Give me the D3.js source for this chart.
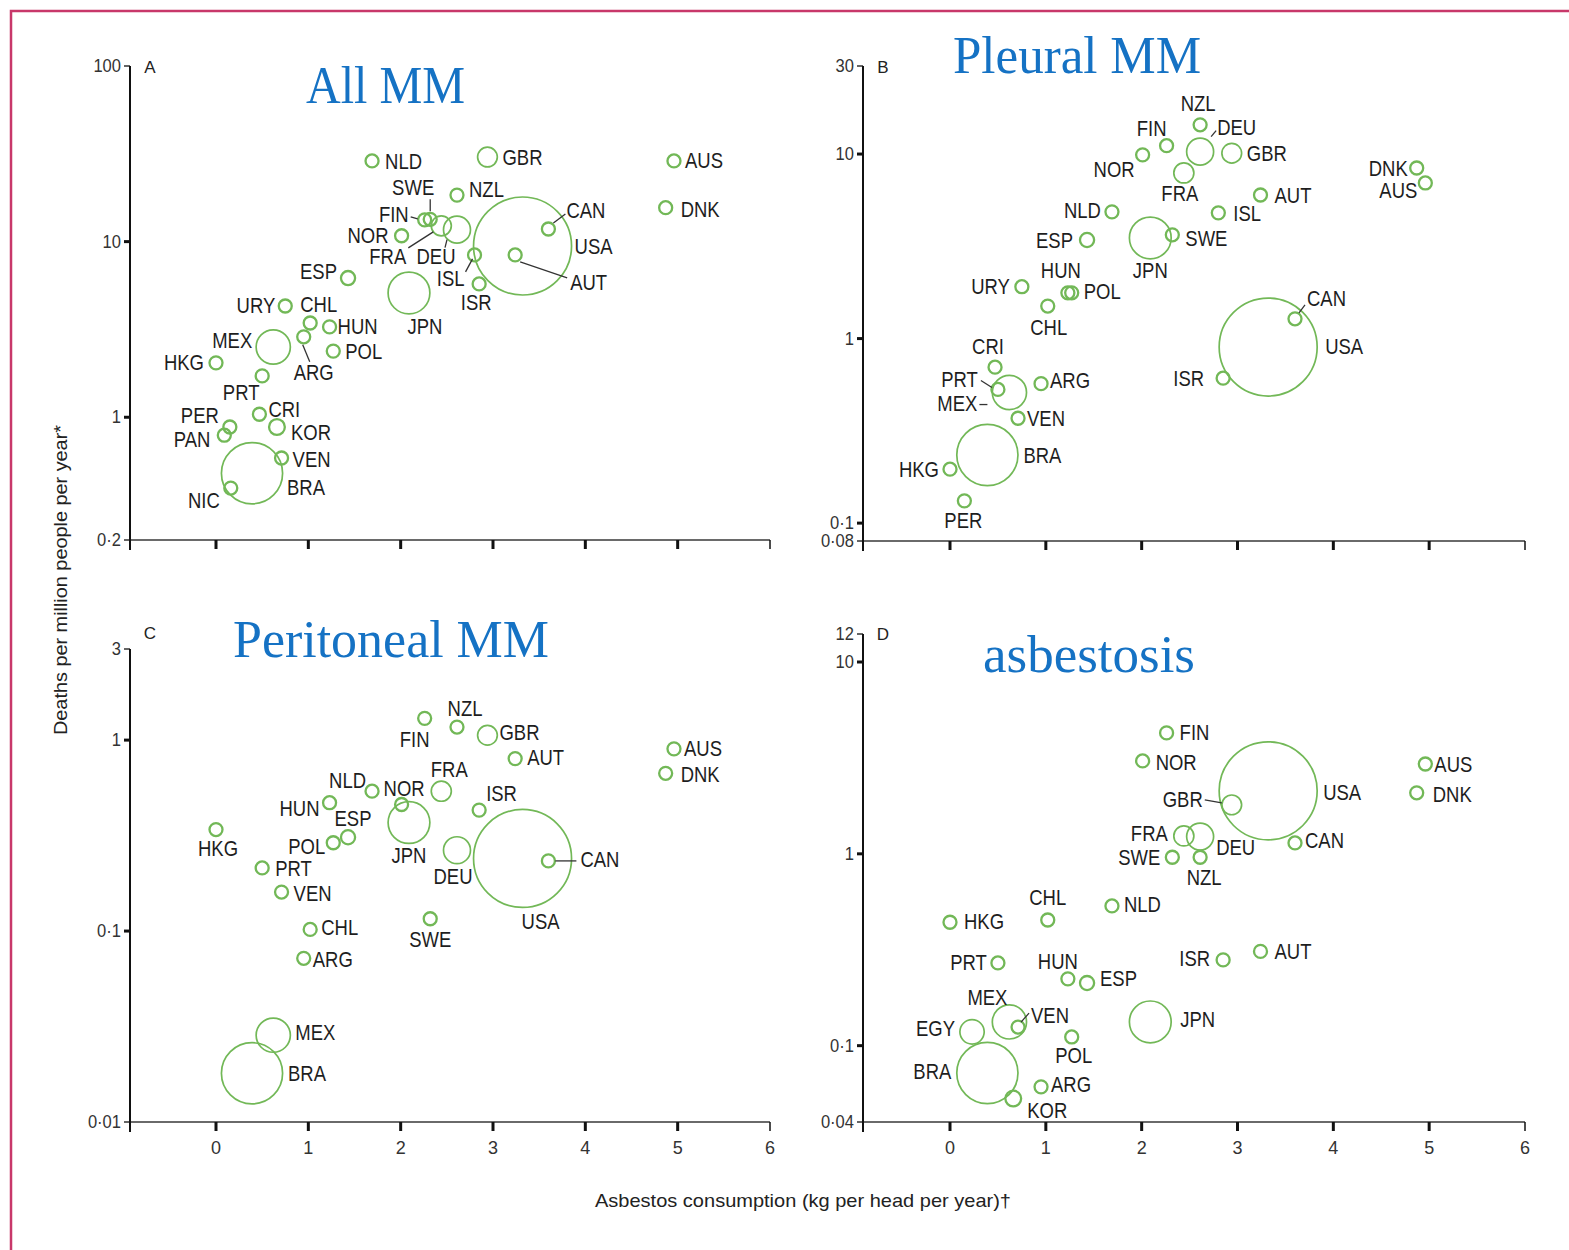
<!DOCTYPE html>
<html><head><meta charset="utf-8">
<script src="https://cdn.jsdelivr.net/npm/d3@7"></script>
<style>body{margin:0;background:#fff}svg{display:block}</style>
</head><body>
<svg id="chart" width="1569" height="1250"></svg>
<script>
// ---------------- DATA ----------------
const codes = ["AUS","DNK","NLD","GBR","NZL","SWE","FIN","FRA","DEU","NOR","CAN","USA","AUT","ISL","ISR","ESP","JPN","URY","CHL","HUN","ARG","MEX","POL","HKG","PRT","CRI","PER","PAN","KOR","VEN","BRA","NIC","EGY"];
// asbestos consumption, kg per head per year
const consumption = [4.96,4.87,1.69,2.94,2.61,2.32,2.26,2.44,2.61,2.01,3.60,3.32,3.24,2.80,2.85,1.43,2.09,0.75,1.02,1.23,0.95,0.62,1.27,0.00,0.50,0.47,0.15,0.09,0.66,0.71,0.39,0.16,0.23];
// population, millions (bubble size)
const population = [20,5.4,16,60,4,9,5.2,61,82,4.6,32,298,8.2,0.3,6.9,43,127,3.3,16,10,39,104,38,6.9,10.5,4.3,28,3.2,48,27,186,5.5,74];

// Panel A: all mesothelioma
const codesA = ["NLD","GBR","AUS","DNK","NZL","SWE","FIN","FRA","DEU","NOR","CAN","USA","AUT","ISL","ISR","ESP","JPN","URY","CHL","HUN","ARG","MEX","POL","HKG","PRT","CRI","PER","PAN","KOR","VEN","BRA","NIC"];
const ratesA = [28.8,30.3,28.8,15.6,18.4,13.4,13.3,12.3,11.7,10.8,11.8,9.44,8.4,8.4,5.74,6.2,5.1,4.3,3.44,3.27,2.87,2.51,2.38,2.04,1.72,1.04,0.88,0.79,0.88,0.586,0.48,0.395];
// Panel B: pleural mesothelioma
const codesB = ["NZL","FIN","DEU","NOR","GBR","FRA","DNK","AUS","AUT","NLD","ISL","ESP","JPN","SWE","URY","HUN","POL","CHL","CAN","USA","ISR","CRI","PRT","MEX","ARG","VEN","BRA","HKG","PER"];
const ratesB = [14.4,11.1,10.3,9.9,10.1,7.9,8.4,6.97,6.0,4.86,4.8,3.42,3.51,3.65,1.91,1.77,1.77,1.5,1.28,0.90,0.61,0.70,0.53,0.51,0.57,0.37,0.234,0.196,0.132];
// Panel C: peritoneal mesothelioma
const codesC = ["FIN","NZL","GBR","AUT","AUS","DNK","FRA","NLD","NOR","JPN","ISR","HUN","ESP","POL","HKG","DEU","USA","CAN","PRT","VEN","CHL","SWE","ARG","MEX","BRA"];
const ratesC = [1.30,1.17,1.06,0.80,0.90,0.67,0.54,0.54,0.46,0.37,0.43,0.47,0.31,0.29,0.34,0.265,0.24,0.233,0.214,0.16,0.102,0.116,0.072,0.0285,0.018];
// Panel D: asbestosis
const codesD = ["FIN","NOR","USA","GBR","AUS","DNK","FRA","DEU","CAN","SWE","NZL","CHL","NLD","HKG","AUT","ISR","PRT","HUN","ESP","MEX","VEN","EGY","JPN","POL","BRA","ARG","KOR"];
const ratesD = [4.27,3.05,2.13,1.80,2.94,2.08,1.24,1.23,1.14,0.96,0.96,0.452,0.535,0.44,0.31,0.28,0.27,0.223,0.212,0.133,0.125,0.118,0.133,0.111,0.072,0.061,0.053];

const xTicks = [0,1,2,3,4,5,6];
const yTicksA = [0.2,1,10,100];
const yTicksB = [0.08,0.1,1,10,30];
const yTicksC = [0.01,0.1,1,3];
const yTicksD = [0.04,0.1,1,10,12];
const yDomainA = [0.2,100], yDomainB = [0.08,30], yDomainC = [0.01,3], yDomainD = [0.04,10,12];
const titles = ["All MM","Pleural MM","Peritoneal MM","asbestosis"];
const letters = ["A","B","C","D"];
const xTitle = "Asbestos consumption (kg per head per year)\u2020";
const yTitle = "Deaths per million people per year*";

// ---------------- LABEL LAYOUT (annotation offsets) ----------------
const labA = [["NLD",13,1,"s"],["GBR",15,0,"s"],["AUS",11,0,"s"],["DNK",15,2,"s"],["NZL",12,-6,"s"],
["SWE",4,-32,"e"],["FIN",-16,-5,"e"],["NOR",-13,0,"e"],["FRA",-35,31,"e"],["DEU",-21,27,"m"],
["CAN",18,-19,"s"],["USA",52,0,"s"],["AUT",55,28,"s"],["ISL",-10,24,"e"],["ISR",-3,19,"m"],
["ESP",-11,-7,"e"],["JPN",16,34,"m"],["URY",-10,0,"e"],["CHL",-10,-19,"s"],["HUN",8,0,"s"],
["MEX",-21,-7,"e"],["ARG",10,36,"m"],["POL",12,0,"s"],["HKG",-12,0,"e"],["PRT",-21,17,"m"],
["CRI",9,-5,"s"],["PER",-11,-12,"e"],["PAN",-14,4,"e"],["KOR",14,5,"s"],["VEN",11,1,"s"],
["BRA",35,14,"s"],["NIC",-11,12,"e"]];
const leadA = [["SWE",0,-20,0,-8],["FIN",-14,-3,-7,-1],["FRA",-33,22,-8,6],["DEU",-10,10,-12,18],
["CAN",5,-6,17,-15],["AUT",5,7,52,23],["ISL",-2,4,-9,17],["ARG",-1,8,6,25]];
const labB = [["NZL",-2,-21,"m"],["FIN",-15,-17,"m"],["DEU",17,-24,"s"],["GBR",15,0,"s"],["NOR",-8,15,"e"],
["FRA",-4,21,"m"],["DNK",-9,0,"e"],["AUS",-8,8,"e"],["AUT",14,1,"s"],["NLD",-11,-1,"e"],
["ISL",15,1,"s"],["ESP",-14,0,"e"],["SWE",13,4,"s"],["JPN",0,33,"m"],["HUN",-7,-22,"m"],
["URY",-12,0,"e"],["POL",12,-1,"s"],["CHL",1,21,"m"],["CAN",12,-20,"s"],["USA",57,-1,"s"],
["CRI",-7,-21,"m"],["PRT",-20,-10,"e"],["MEX",-32,11,"e"],["ARG",9,-3,"s"],["VEN",9,0,"s"],
["ISR",-19,0,"e"],["BRA",36,1,"s"],["HKG",-11,0,"e"],["PER",-1,20,"m"]];
const leadB = [["DEU",11,-15,16,-21],["CAN",4,-6,10,-14],["PRT",-17,-9,-6,-2],["MEX",-30,12,-22,12]];
const labC = [["FIN",-10,21,"m"],["NZL",8,-19,"m"],["GBR",12,-3,"s"],["AUT",12,-1,"s"],["AUS",10,0,"s"],
["DNK",15,1,"s"],["FRA",8,-22,"m"],["NLD",-6,-11,"e"],["NOR",-18,-16,"s"],["HUN",-10,6,"e"],
["ESP",5,-19,"m"],["ISR",7,-17,"s"],["HKG",2,19,"m"],["POL",-8,4,"e"],["JPN",0,33,"m"],
["DEU",-4,26,"m"],["CAN",32,-1,"s"],["USA",18,63,"m"],["PRT",13,1,"s"],["VEN",12,1,"s"],
["CHL",11,-2,"s"],["SWE",0,21,"m"],["ARG",9,1,"s"],["MEX",22,-3,"s"],["BRA",36,0,"s"]];
const leadC = [["CAN",7,0,28,0]];
const labD = [["FIN",13,0,"s"],["NOR",13,2,"s"],["USA",55,2,"s"],["AUS",9,1,"s"],["DNK",16,2,"s"],
["GBR",-29,-5,"e"],["FRA",-16,-2,"e"],["DEU",16,11,"s"],["CAN",10,-2,"s"],["SWE",-12,0,"e"],
["NZL",4,20,"m"],["CHL",0,-22,"m"],["NLD",12,-1,"s"],["HKG",14,-1,"s"],["AUT",14,0,"s"],
["ISR",-13,-1,"e"],["PRT",-11,0,"e"],["HUN",-10,-17,"m"],["ESP",13,-5,"s"],["MEX",-22,-24,"m"],
["VEN",13,-12,"s"],["EGY",-17,-3,"e"],["JPN",30,-2,"s"],["POL",2,19,"m"],["BRA",-36,-2,"e"],
["ARG",10,-2,"s"],["KOR",34,12,"m"]];
const leadD = [["GBR",-27,-5,-10,-2],["VEN",3,-5,11,-14]];

// ---------------- LAYOUT ----------------
const panels = [
  {codes:codesA, rates:ratesA, yDom:yDomainA, yRange:[540,66], yTicks:yTicksA, lab:labA, lead:leadA, xl:130, x0:216, x6:770, xLabels:false, title:[306,103,159], letter:[150,73]},
  {codes:codesB, rates:ratesB, yDom:yDomainB, yRange:[541,66], yTicks:yTicksB, lab:labB, lead:leadB, xl:863, x0:950, x6:1525, xLabels:false, title:[953,73,248], letter:[883,73]},
  {codes:codesC, rates:ratesC, yDom:yDomainC, yRange:[1122,649], yTicks:yTicksC, lab:labC, lead:leadC, xl:130, x0:216, x6:770, xLabels:true, title:[233,657,316], letter:[150,639]},
  {codes:codesD, rates:ratesD, yDom:yDomainD, yRange:[1122,662,634], yTicks:yTicksD, lab:labD, lead:leadD, xl:863, x0:950, x6:1525, xLabels:true, title:[983,672,212], letter:[883,640]}
];

const GREEN = "#72b857", BLUE = "#1572c4", INK = "#1e1e1e";
const LABEL_FONT = "'Liberation Sans', Arial, sans-serif";
const svg = d3.select("#chart");
const rScale = d3.scaleLinear().domain([0, 298]).range([0, 49]);
const fmt = v => String(v).replace(".", "\u00b7");
const idx = Object.fromEntries(codes.map((c,i)=>[c,i]));

// frame
svg.append("path").attr("d","M11,1250V11H1569").attr("fill","none").attr("stroke","#c8386a").attr("stroke-width",2.5);

function label(g, x, y, s, size, anchor, sx, fill) {
  g.append("text")
    .attr("transform", `translate(${x},${y}) scale(${sx},1)`)
    .attr("text-anchor", anchor).attr("dominant-baseline","central")
    .attr("font-family", LABEL_FONT).attr("font-size", size)
    .attr("fill", fill || INK).text(s);
}

panels.forEach((p, pi) => {
  const g = svg.append("g");
  const x = d3.scaleLinear().domain([0,6]).range([p.x0, p.x6]);
  // log axis (panel D has a short broken segment above 10, as in the original)
  const yLin = d3.scaleLinear().domain(p.yDom.map(Math.log10)).range(p.yRange);
  const y = v => yLin(Math.log10(v));
  const yBot = p.yRange[0], yTop = p.yRange[p.yRange.length-1];

  // x axis line
  g.append("line").attr("x1", p.xl).attr("x2", x(6)).attr("y1", yBot).attr("y2", yBot)
    .attr("stroke","#6a6a6a").attr("stroke-width",2.2);
  g.selectAll(".xt").data(xTicks).join("line")
    .attr("x1", d=>x(d)).attr("x2", d=>x(d)).attr("y1", yBot).attr("y2", yBot+9)
    .attr("stroke","#111").attr("stroke-width", d => d===6 ? 1.5 : 3);
  if (p.xLabels) {
    xTicks.forEach(t => g.append("text").attr("x", x(t)).attr("y", yBot+26)
      .attr("text-anchor","middle").attr("dominant-baseline","central")
      .attr("font-family", LABEL_FONT).attr("font-size", 18).attr("fill","#333").text(t));
  }
  // y axis line
  g.append("line").attr("x1", p.xl).attr("x2", p.xl).attr("y1", yTop).attr("y2", yBot+10)
    .attr("stroke","#111").attr("stroke-width",2);
  g.selectAll(".yt").data(p.yTicks).join("line")
    .attr("x1", p.xl-6).attr("x2", p.xl).attr("y1", d=>y(d)).attr("y2", d=>y(d))
    .attr("stroke","#111").attr("stroke-width", (d,i)=> (i===p.yTicks.length-1 || i===0) ? 1.3 : 3);
  p.yTicks.forEach(t => label(g, p.xl-9, y(t), fmt(t), 18, "end", 0.92, "#333"));

  // panel letter
  g.append("text").attr("x", p.letter[0]).attr("y", p.letter[1]).attr("text-anchor","middle")
    .attr("font-family", LABEL_FONT).attr("font-size",17).attr("fill","#222").text(letters[pi]);
  // title
  g.append("text").attr("x", p.title[0]).attr("y", p.title[1])
    .attr("font-family","'Liberation Serif','Times New Roman',serif").attr("font-size",52)
    .attr("textLength", p.title[2]).attr("lengthAdjust","spacingAndGlyphs")
    .attr("fill", BLUE).text(titles[pi]);

  // points
  const pts = p.codes.map((c,i)=>({code:c, cx:x(consumption[idx[c]]), cy:y(p.rates[i]),
                                    r:Math.max(6.5, rScale(population[idx[c]]))}));
  const byCode = Object.fromEntries(pts.map(d=>[d.code,d]));
  g.selectAll("circle.pt").data(pts).join("circle")
    .attr("cx", d=>d.cx).attr("cy", d=>d.cy).attr("r", d=>d.r)
    .attr("fill","none").attr("stroke", GREEN).attr("stroke-width", d=> d.r>8 ? 1.7 : 2.3);

  // leader lines
  p.lead.forEach(([c,x1,y1,x2,y2]) => {
    const d = byCode[c];
    g.append("line").attr("x1", d.cx+x1).attr("y1", d.cy+y1).attr("x2", d.cx+x2).attr("y2", d.cy+y2)
      .attr("stroke","#333").attr("stroke-width",1.3);
  });
  // labels
  const anc = {s:"start", e:"end", m:"middle"};
  p.lab.forEach(([c,dx,dy,a]) => {
    const d = byCode[c];
    label(g, d.cx+dx, d.cy+dy, c, 21.5, anc[a], 0.86);
  });
});

// axis titles
svg.append("text").attr("x", 803).attr("y", 1200).attr("text-anchor","middle").attr("dominant-baseline","central")
  .attr("font-family", LABEL_FONT).attr("font-size", 19).attr("fill","#222")
  .attr("textLength", 416).attr("lengthAdjust","spacingAndGlyphs").text(xTitle);
svg.append("text").attr("transform","translate(60,580) rotate(-90)").attr("text-anchor","middle")
  .attr("dominant-baseline","central").attr("font-family", LABEL_FONT).attr("font-size", 19).attr("fill","#222")
  .attr("textLength", 310).attr("lengthAdjust","spacingAndGlyphs").text(yTitle);
</script>
</body></html>
